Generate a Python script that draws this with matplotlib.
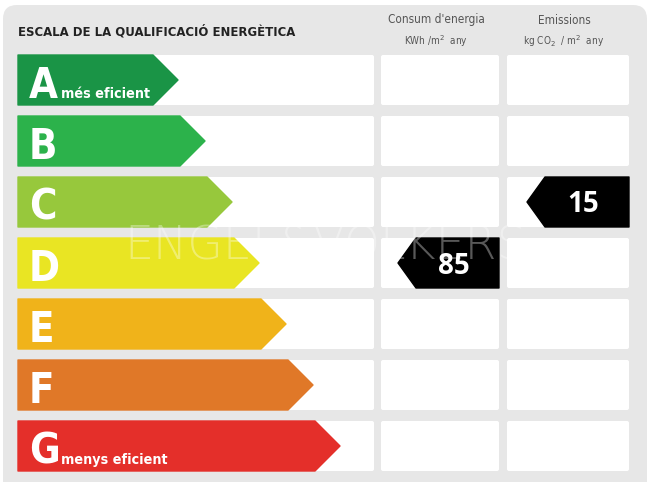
import matplotlib
matplotlib.use('Agg')
from matplotlib import pyplot as plt
from matplotlib.patches import Polygon, FancyBboxPatch

grades = ['A', 'B', 'C', 'D', 'E', 'F', 'G']
grade_colors = ['#1a9446', '#2cb24b', '#97c83c', '#e9e523', '#f0b31a', '#e07828', '#e42f2a']
grade_notes = {'A': 'més eficient', 'G': 'menys eficient'}

title = 'ESCALA DE LA QUALIFICACIÓ ENERGÈTICA'
col_titles = ['Consum d\'energia', 'Emissions']
col_units = ['KWh /m$^2$  any', 'kg CO$_2$  / m$^2$  any']

energy_grade, energy_value = 'D', 85
emissions_grade, emissions_value = 'C', 15

narrow = dict(family='DejaVu Sans', stretch='condensed')

fig = plt.figure(figsize=(6.55, 4.82), dpi=100)
ax = fig.add_axes([0, 0, 1, 1])
ax.set_xlim(0, 655)
ax.set_ylim(482, 0)
ax.axis('off')

# grey rounded panel
ax.add_patch(FancyBboxPatch((3, 5), 644, 500, boxstyle='round,pad=0,rounding_size=14',
                            fc='#e7e7e7', ec='none'))

row_top0, row_h, pitch = 55, 50, 61
cols = [(18, 374), (381, 499), (507, 629)]

ax.text(18, 32, title, fontsize=9.4, fontweight='bold', color='#222222',
        va='center', ha='left', **narrow)
for (x0, x1), t, u in zip(cols[1:], col_titles, col_units):
    cx = (x0 + x1) / 2 - 4
    ax.text(cx, 20, t, fontsize=8.5, color='#555555', ha='center', va='center', **narrow)
    ax.text(cx, 41, u, fontsize=7.2, color='#555555', ha='center', va='center', **narrow)

for i, (g, c) in enumerate(zip(grades, grade_colors)):
    top = row_top0 + i * pitch
    bot = top + row_h
    mid = (top + bot) / 2
    for x0, x1 in cols:
        ax.add_patch(FancyBboxPatch((x0, top), x1 - x0, row_h,
                                    boxstyle='round,pad=0,rounding_size=2',
                                    fc='white', ec='none'))
    tip = 178 + 27 * i
    body = tip - 25
    ax.add_patch(Polygon([(18, top), (body, top), (tip, mid), (body, bot), (18, bot)],
                         closed=True, fc=c, ec=c, lw=1, joinstyle='round'))
    ax.text(29, bot - 7, g, fontsize=30, fontweight='bold', color='white',
            ha='left', va='baseline', **narrow)
    if g in grade_notes:
        ax.text(61, bot - 7, grade_notes[g], fontsize=10.3, fontweight='bold',
                color='white', ha='left', va='baseline', **narrow)

# watermark
ax.text(325, 246, 'ENGEL&VÖLKERS', fontsize=33, color='white', alpha=0.35,
        family=['DejaVu Sans'], fontweight='light', ha='center', va='center')

for (g, v), (x0, x1) in zip([(energy_grade, energy_value), (emissions_grade, emissions_value)],
                            cols[1:]):
    i = grades.index(g)
    top = row_top0 + i * pitch
    bot = top + row_h
    mid = (top + bot) / 2
    tip = x0 + 17 if x0 < 500 else x0 + 20
    body = tip + 18
    ax.add_patch(Polygon([(tip, mid), (body, top), (x1, top), (x1, bot), (body, bot)],
                         closed=True, fc='black', ec='black', lw=1, joinstyle='round'))
    ax.text((body + x1) / 2 - 4, mid + 3, str(v), fontsize=20, fontweight='bold',
            color='white', family=['Open Sans', 'DejaVu Sans'], ha='center', va='center')

fig.savefig('out.png', dpi=100)
